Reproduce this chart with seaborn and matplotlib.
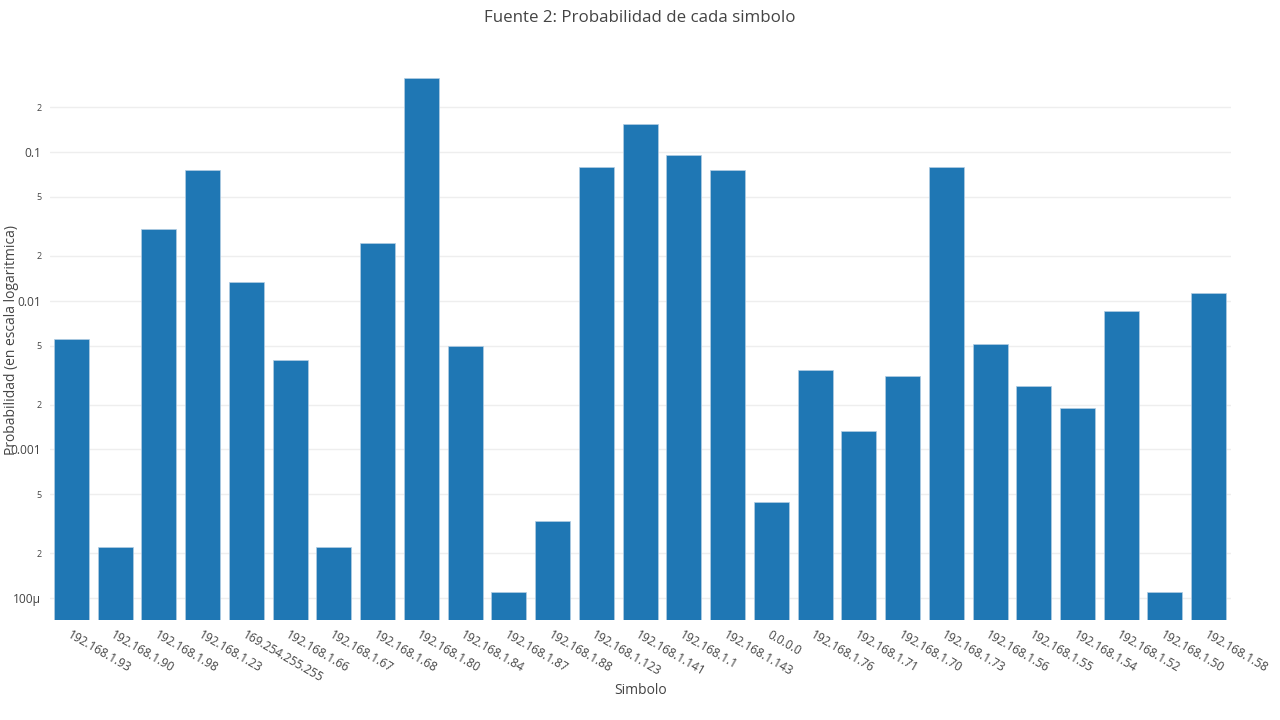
import pandas as pd
import seaborn as sns
import matplotlib.pyplot as plt
from matplotlib.ticker import FixedLocator, FixedFormatter, NullLocator

# --- Datos ---
simbolos = [
    "192.168.1.93", "192.168.1.90", "192.168.1.98", "192.168.1.23", "169.254.255.255",
    "192.168.1.66", "192.168.1.67", "192.168.1.68", "192.168.1.80", "192.168.1.84",
    "192.168.1.87", "192.168.1.88", "192.168.1.123", "192.168.1.141", "192.168.1.1",
    "192.168.1.143", "0.0.0.0", "192.168.1.76", "192.168.1.71", "192.168.1.70",
    "192.168.1.73", "192.168.1.56", "192.168.1.55", "192.168.1.54", "192.168.1.52",
    "192.168.1.50", "192.168.1.58",
]
probabilidades = [
    0.00552, 0.000221, 0.0303, 0.0757, 0.01336,
    0.00399, 0.000221, 0.0244, 0.315, 0.00496,
    0.00011, 0.00033, 0.0793, 0.154, 0.0955,
    0.0757, 0.000443, 0.00342, 0.00133, 0.00312,
    0.0793, 0.00511, 0.00267, 0.0019, 0.00853,
    0.00011, 0.01127,
]

ticks_y = [0.2, 0.1, 0.05, 0.02, 0.01, 0.005, 0.002, 0.001, 0.0005, 0.0002, 0.0001]
labels_y = ["2", "0.1", "5", "2", "0.01", "5", "2", "0.001", "5", "2", "100\u00b5"]
mayores = {"0.1", "0.01", "0.001", "100\u00b5"}

df = pd.DataFrame({"simbolo": simbolos, "prob": probabilidades})

# --- Estilo ---
sns.set_theme(style="white")
plt.rcParams["font.family"] = ["Open Sans", "DejaVu Sans"]

fig = plt.figure(figsize=(12.8, 7.2), dpi=100)
ax = fig.add_axes([49.6 / 1280, 1 - 620 / 720, 1181 / 1280, 560 / 720])

sns.barplot(data=df, x="simbolo", y="prob", ax=ax, color="#1f77b4",
            saturation=1, width=0.8, edgecolor="#b3cde3", linewidth=0.5,
            zorder=2)

ax.set_yscale("log")
ax.set_ylim(10 ** -4.147, 10 ** -0.381)
ax.set_xlim(-0.5, len(simbolos) - 0.5)

ax.yaxis.set_major_locator(FixedLocator(ticks_y))
ax.yaxis.set_major_formatter(FixedFormatter(labels_y))
ax.yaxis.set_minor_locator(NullLocator())
ax.tick_params(axis="y", length=0, pad=6, colors="#444444")
for t in ax.get_yticklabels():
    t.set_fontsize(8.6 if t.get_text() in mayores else 6.5)

ax.grid(axis="y", color="#eeeeee", linewidth=1, zorder=0)
ax.set_axisbelow(True)
for s in ax.spines.values():
    s.set_visible(False)

ax.tick_params(axis="x", length=0, pad=6, colors="#444444", labelsize=8.6)
plt.setp(ax.get_xticklabels(), rotation=-30, ha="left", va="top",
         rotation_mode="anchor")

ax.set_xlabel("Simbolo", fontsize=10, color="#444444")
ax.set_ylabel("Probabilidad (en escala logaritmica)", fontsize=10,
              color="#444444")
ax.xaxis.set_label_coords(0.5, (620 - 690) / 560)
ax.yaxis.set_label_coords((12 - 49.6) / 1181, 0.5)
ax.xaxis.label.set_va("center")
ax.yaxis.label.set_va("center")

fig.text(0.5, 1 - 18 / 720, "Fuente 2: Probabilidad de cada simbolo",
         ha="center", va="center", fontsize=12.2, color="#444444")

fig.savefig("out.png", dpi=100)
plt.close()
